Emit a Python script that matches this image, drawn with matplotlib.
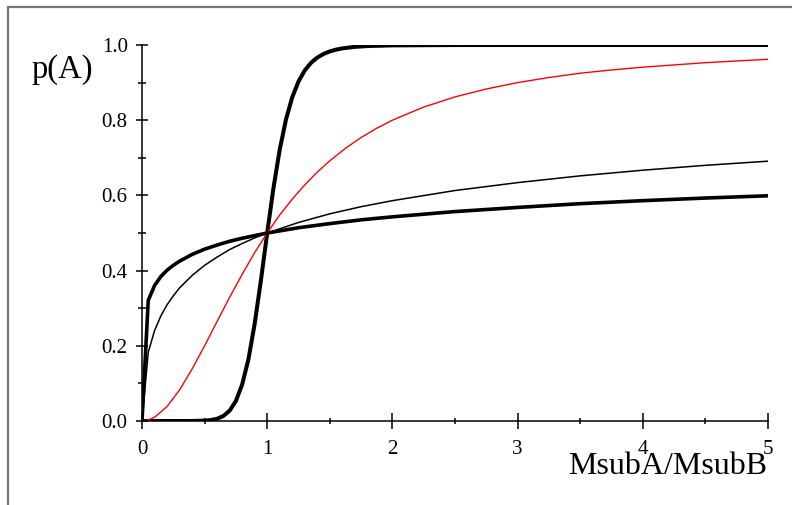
import numpy as np
import matplotlib
matplotlib.use("Agg")
import matplotlib.pyplot as plt
from matplotlib.patches import Rectangle
from matplotlib.ticker import MultipleLocator

plt.rcParams['font.family'] = ['Liberation Serif', 'DejaVu Serif']

# valeurs : p(A) en fonction de MsubA/MsubB
x_steep = [0, 0.1, 0.2, 0.3, 0.4, 0.5, 0.55, 0.6, 0.65, 0.7, 0.75, 0.8, 0.85,
           0.9, 0.95, 1.0, 1.05, 1.1, 1.15, 1.2, 1.25, 1.3, 1.35, 1.4, 1.45,
           1.5, 1.55, 1.6, 1.7, 1.8, 2.0, 2.5, 3.0, 4.0, 5.0]
p_steep = [0, 0, 0, 0, 0.0001, 0.001, 0.0025, 0.006, 0.0133, 0.0275, 0.0533,
           0.097, 0.164, 0.2586, 0.3745, 0.5, 0.6196, 0.7217, 0.8018, 0.861,
           0.903, 0.9324, 0.9526, 0.9666, 0.9762, 0.983, 0.9877, 0.991,
           0.9951, 0.9972, 0.999, 0.9999, 1.0, 1.0, 1.0]

x_red = [0, 0.05, 0.1, 0.2, 0.3, 0.4, 0.5, 0.6, 0.7, 0.8, 0.9, 1.0, 1.1, 1.2,
         1.3, 1.4, 1.5, 1.625, 1.75, 1.875, 2.0, 2.25, 2.5, 2.75, 3.0, 3.25,
         3.5, 3.75, 4.0, 4.5, 5.0]
p_red = [0, 0.0025, 0.0099, 0.0385, 0.0826, 0.138, 0.2, 0.265, 0.329, 0.39,
         0.448, 0.5, 0.548, 0.59, 0.628, 0.662, 0.692, 0.7253, 0.754, 0.7786,
         0.8, 0.835, 0.862, 0.883, 0.9, 0.9135, 0.925, 0.9336, 0.941, 0.953,
         0.962]

x_flat = [0, 0.05, 0.1, 0.15, 0.2, 0.25, 0.3, 0.4, 0.5, 0.6, 0.7, 0.8, 0.9,
          1.0, 1.25, 1.5, 1.75, 2.0, 2.5, 3.0, 3.5, 4.0, 4.5, 5.0]
p_thin = [0, 0.183, 0.24, 0.279, 0.309, 0.333, 0.354, 0.387, 0.414, 0.436,
          0.456, 0.472, 0.487, 0.5, 0.528, 0.551, 0.57, 0.586, 0.613, 0.634,
          0.652, 0.667, 0.68, 0.691]
p_flat = [0, 0.321, 0.36, 0.384, 0.401, 0.414, 0.425, 0.443, 0.457, 0.468,
          0.478, 0.486, 0.493, 0.5, 0.514, 0.525, 0.535, 0.543, 0.557, 0.568,
          0.578, 0.586, 0.593, 0.599]

x_ticks = [0, 1, 2, 3, 4, 5]
y_ticks = [0, 0.2, 0.4, 0.6, 0.8, 1.0]
y_tick_labels = ['0.0', '0.2', '0.4', '0.6', '0.8', '1.0']

fig = plt.figure(figsize=(7.92, 5.05), dpi=100)
ax = fig.add_axes([142/792, 1 - 421/505, 626/792, 376/505])

# cadre gris autour de la figure
fig.patches.append(Rectangle((8/792, -0.1), 1.2, (505 - 6.5)/505 + 0.1,
                             transform=fig.transFigure, fill=False,
                             edgecolor='#777777', lw=1.6))

ax.plot(x_steep, p_steep, color='black', lw=2.9, solid_joinstyle='round')
ax.plot(x_red, p_red, color='red', lw=1.0)
ax.plot(x_flat, p_thin, color='black', lw=1.1)
ax.plot(x_flat, p_flat, color='black', lw=2.6, solid_joinstyle='round')

ax.set_xlim(0, 5)
ax.set_ylim(0, 1)
for s in ['top', 'right']:
    ax.spines[s].set_visible(False)
for s in ['left', 'bottom']:
    ax.spines[s].set_linewidth(1.1)

ax.set_xticks(x_ticks)
ax.set_xticklabels([str(v) for v in x_ticks])
ax.xaxis.set_minor_locator(MultipleLocator(0.5))
ax.set_yticks(y_ticks)
ax.set_yticklabels(y_tick_labels)
ax.yaxis.set_minor_locator(MultipleLocator(0.1))

ax.tick_params(axis='x', which='major', direction='inout', length=11.5, width=1.1,
               labelsize=15, pad=8)
ax.tick_params(axis='x', which='minor', direction='inout', length=5, width=1.1)
ax.tick_params(axis='y', which='major', direction='inout', length=8.6, width=1.1,
               labelsize=15, pad=6)
ax.tick_params(axis='y', which='minor', direction='inout', length=5.8, width=1.1)

fig.text(32/792, 1 - 78/505, "p(A)", fontsize=23.5, ha='left', va='baseline')
fig.text(767/792, 1 - 474/505, "MsubA/MsubB", fontsize=23, ha='right', va='baseline')

plt.savefig("out.png", dpi=100)
